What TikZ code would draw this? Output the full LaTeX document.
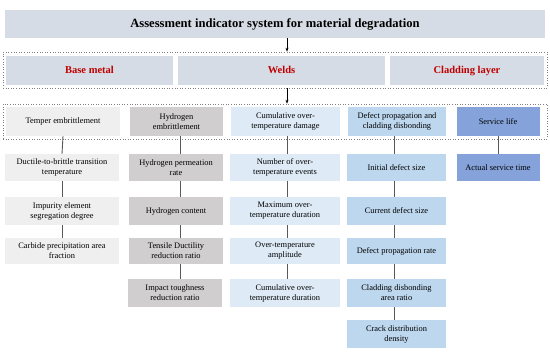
\documentclass[tikz,border=0pt]{standalone}
\usepackage{fontspec}
\setmainfont{Liberation Serif}
\usetikzlibrary{arrows.meta}
\definecolor{topfill}{HTML}{D6DCE5}
\definecolor{redtxt}{HTML}{C00000}
\definecolor{cA}{HTML}{EFEFEF}
\definecolor{cB}{HTML}{D0CECE}
\definecolor{cC}{HTML}{DEEBF7}
\definecolor{cD}{HTML}{BDD7EE}
\definecolor{cE}{HTML}{85A3DA}
\definecolor{linec}{HTML}{595959}
\tikzset{
  box/.style={inner sep=1pt, align=center, font=\fontsize{8.4}{10}\selectfont, text=black},
  titlebox/.style={box, fill=topfill, font=\fontsize{12.6}{14}\selectfont\bfseries},
  catbox/.style={box, fill=topfill, text=redtxt, font=\fontsize{10.5}{12}\selectfont\bfseries, text height=7.5pt, text depth=2.3pt},
  dotbox/.style={draw=gray, dotted, line width=0.6pt, inner sep=0pt},
  conn/.style={draw=linec, line width=0.9pt},
  arr/.style={draw=black, line width=0.6pt, -{Stealth[length=4pt,width=3pt]}},
  colA/.style={box, fill=cA},
  colB/.style={box, fill=cB},
  colC/.style={box, fill=cC},
  colD/.style={box, fill=cD},
  colE/.style={box, fill=cE},
}
\begin{document}
\begin{tikzpicture}[x=1pt,y=-1pt]
\useasboundingbox (0,0) rectangle (550,353);
% title
\node[titlebox, minimum width=540, minimum height=28] (title) at (275,24) {Assessment indicator system for material degradation};
% level 1
\node[dotbox, minimum width=544, minimum height=36] (lvl1) at (275,70) {};
\node[catbox, minimum width=167, minimum height=29] (base) at (89.5,70.5) {Base metal};
\node[catbox, minimum width=207, minimum height=29] (welds) at (281.5,70.5) {Welds};
\node[catbox, minimum width=154, minimum height=29] (clad) at (467,70.5) {Cladding layer};
% level 2
\node[dotbox, minimum width=544, minimum height=35] (lvl2) at (275,121.5) {};
\node[colA, minimum width=114, minimum height=29] (a0) at (63,121.5) {Temper embrittlement};
\node[colB, minimum width=93, minimum height=29] (b0) at (176.5,121.5) {Hydrogen\\embrittlement};
\node[colC, minimum width=109, minimum height=29] (c0) at (285.5,121.5) {Cumulative over-\\temperature damage};
\node[colD, minimum width=98, minimum height=29] (d0) at (397,121.5) {Defect propagation and\\cladding disbonding};
\node[colE, minimum width=83, minimum height=29] (e0) at (498,121.5) {Service life};
% arrows
\coordinate (ax1) at (287,0);
\draw[arr] (title.south -| ax1) -- (lvl1.north -| ax1);
\draw[arr] (lvl1.south -| ax1) -- (lvl2.north -| ax1);
% column A
\node[colA, minimum width=114, minimum height=27] (a1) at (62,167.5) {Ductile-to-brittle transition\\temperature};
\node[colA, minimum width=114, minimum height=28] (a2) at (62,211) {Impurity element\\segregation degree};
\node[colA, minimum width=114, minimum height=26] (a3) at (62,251) {Carbide precipitation area\\fraction};
% column B
\node[colB, minimum width=94, minimum height=27] (b1) at (176,167.5) {Hydrogen permeation\\rate};
\node[colB, minimum width=94, minimum height=28] (b2) at (176,211) {Hydrogen content};
\node[colB, minimum width=94, minimum height=26] (b3) at (176,251) {Tensile Ductility\\reduction ratio};
\node[colB, minimum width=94, minimum height=28] (b4) at (175,293) {Impact toughness\\reduction ratio};
% column C
\node[colC, minimum width=110, minimum height=27] (c1) at (285,167.5) {Number of over-\\temperature events};
\node[colC, minimum width=110, minimum height=28] (c2) at (285,211) {Maximum over-\\temperature duration};
\node[colC, minimum width=110, minimum height=26] (c3) at (285,251) {Over-temperature\\amplitude};
\node[colC, minimum width=110, minimum height=28] (c4) at (285,293) {Cumulative over-\\temperature duration};
% column D
\node[colD, minimum width=99, minimum height=27] (d1) at (396.5,167.5) {Initial defect size};
\node[colD, minimum width=99, minimum height=28] (d2) at (396.5,211) {Current defect size};
\node[colD, minimum width=99, minimum height=26] (d3) at (396.5,251) {Defect propagation rate};
\node[colD, minimum width=99, minimum height=28] (d4) at (396.5,293) {Cladding disbonding\\area ratio};
\node[colD, minimum width=99, minimum height=28] (d5) at (396.5,334) {Crack distribution\\density};
% column E
\node[colE, minimum width=83, minimum height=27] (e1) at (498,167.5) {Actual service time};
% connectors
\draw[conn] (a0.south) -- (a1.north);
\draw[conn] (a1.south) -- (a2.north);
\draw[conn] (a2.south) -- (a3.north);
\coordinate (bx) at (180,0);
\draw[conn] (b0.south -| bx) -- (b1.north -| bx);
\draw[conn] (b1.south -| bx) -- (b2.north -| bx);
\draw[conn] (b2.south -| bx) -- (b3.north -| bx);
\draw[conn] (b3.south -| bx) -- (b4.north -| bx);
\coordinate (cx) at (287,0);
\draw[conn] (c0.south -| cx) -- (c1.north -| cx);
\draw[conn] (c1.south -| cx) -- (c2.north -| cx);
\draw[conn] (c2.south -| cx) -- (c3.north -| cx);
\draw[conn] (c3.south -| cx) -- (c4.north -| cx);
\coordinate (dx) at (394,0);
\draw[conn] (d0.south -| dx) -- (d1.north -| dx);
\draw[conn] (d1.south -| dx) -- (d2.north -| dx);
\draw[conn] (d2.south -| dx) -- (d3.north -| dx);
\draw[conn] (d3.south -| dx) -- (d4.north -| dx);
\draw[conn] (d4.south -| dx) -- (d5.north -| dx);
\draw[conn] (e0.south) -- (e1.north);
\end{tikzpicture}
\end{document}
